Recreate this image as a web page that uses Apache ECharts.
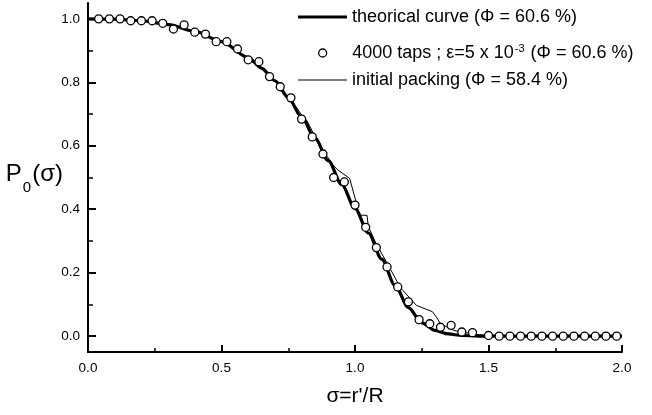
<!DOCTYPE html>
<html>
<head>
<meta charset="utf-8">
<script src="https://cdn.jsdelivr.net/npm/echarts@6/dist/echarts.min.js"></script>
<style>
html,body{margin:0;padding:0;background:#fff;}
#c{width:652px;height:415px;}
</style>
</head>
<body>
<div id="c"></div>
<script>
// ---- data ----
var theoryX = [0, 0.1, 0.2, 0.3, 0.4, 0.5, 0.6, 0.65, 0.7, 0.75, 0.8, 0.85, 0.9, 0.95, 1.0, 1.05, 1.1, 1.15, 1.2, 1.25, 1.3, 1.35, 1.4, 1.5, 1.6, 1.8, 2.0];
var theoryY = [1.0, 0.999, 0.994, 0.982, 0.961, 0.928, 0.878, 0.845, 0.805, 0.752, 0.690, 0.624, 0.553, 0.478, 0.403, 0.325, 0.243, 0.160, 0.090, 0.042, 0.018, 0.007, 0.002, 0, 0, 0, 0];

var tapsX = [0.04, 0.08, 0.12, 0.16, 0.20, 0.24, 0.28, 0.32, 0.36, 0.40, 0.44, 0.48, 0.52, 0.56, 0.60, 0.64, 0.68, 0.72, 0.76, 0.80, 0.84, 0.88, 0.92, 0.96, 1.00, 1.04, 1.08, 1.12, 1.16, 1.20, 1.24, 1.28, 1.32, 1.36, 1.40, 1.44, 1.50, 1.54, 1.58, 1.62, 1.66, 1.70, 1.74, 1.78, 1.82, 1.86, 1.90, 1.94, 1.98];
var tapsY = [1.0, 1.0, 1.0, 0.994, 0.994, 0.994, 0.986, 0.968, 0.981, 0.958, 0.952, 0.928, 0.928, 0.905, 0.871, 0.865, 0.818, 0.786, 0.751, 0.684, 0.628, 0.574, 0.500, 0.486, 0.413, 0.343, 0.279, 0.218, 0.155, 0.108, 0.052, 0.039, 0.028, 0.034, 0.013, 0.011, 0.002, 0, 0, 0, 0, 0, 0, 0, 0, 0, 0, 0, 0];

var initX = [0, 0.1, 0.2, 0.3, 0.4, 0.5, 0.6, 0.7, 0.78, 0.80, 0.82, 0.846, 0.88, 0.918, 0.934, 0.98, 1.004, 1.015, 1.045, 1.05, 1.08, 1.125, 1.17, 1.23, 1.29, 1.305, 1.32, 1.37, 1.44, 1.5, 1.6, 2.0];
var initY = [1.0, 0.999, 0.994, 0.982, 0.961, 0.928, 0.878, 0.805, 0.722, 0.697, 0.679, 0.636, 0.585, 0.539, 0.525, 0.497, 0.423, 0.381, 0.381, 0.345, 0.290, 0.223, 0.153, 0.097, 0.077, 0.060, 0.039, 0.018, 0.007, 0.001, 0, 0];

var yMajor = [0.0, 0.2, 0.4, 0.6, 0.8, 1.0];
var yMinor = [0.1, 0.3, 0.5, 0.7, 0.9];

var nameTheory = 'theorical curve (\u03a6 = 60.6 %)';
var nameTaps = '4000 taps ; \u03b5=5 x 10-3 (\u03a6 = 60.6 %)';
var nameInit = 'initial packing (\u03a6 = 58.4 %)';

function zip(a, b) { return a.map(function (v, i) { return [v, b[i]]; }); }

var FONT = '"Liberation Sans", Arial, Helvetica, sans-serif';
var chart = echarts.init(document.getElementById('c'), null, { renderer: 'canvas' });

function legendAt(name, left, top, icon, iconH, iStyle) {
  return {
    data: [{ name: name, icon: icon }],
    left: left, top: top, orient: 'vertical', padding: 0,
    itemWidth: 49, itemHeight: iconH, itemGap: 0,
    selectedMode: false,
    itemStyle: iStyle,
    textStyle: {
      fontFamily: FONT, fontSize: 18, color: '#000', lineHeight: 20,
      rich: {
        t: { fontFamily: FONT, fontSize: 18, color: '#000', lineHeight: 20 },
        s: { fontFamily: FONT, fontSize: 11, color: '#000', lineHeight: 11, verticalAlign: 'top', padding: [0, 1, 6, 1] }
      }
    },
    formatter: function (n) {
      if (n === nameTaps) return '{t|4000 taps ; \u03b5=5 x 10}{s|-3}{t| (\u03a6 = 60.6 %)}';
      return n;
    }
  };
}

var option = {
  animation: false,
  backgroundColor: '#fff',
  grid: { left: 88, right: 30, top: 3, bottom: 63, containLabel: false, outerBoundsMode: 'none' },
  legend: [
    legendAt(nameTheory, 298, 7, 'rect', 3.2, { color: '#000', borderWidth: 0 }),
    legendAt(nameTaps, 318, 43, 'circle', 8, { color: '#fff', borderColor: '#000', borderWidth: 1.3, opacity: 1 }),
    legendAt(nameInit, 298, 70, 'rect', 1.2, { color: '#000', borderWidth: 0 })
  ],
  xAxis: {
    type: 'value', min: 0, max: 2, interval: 0.5,
    name: '\u03c3=r\'/R', nameLocation: 'middle', nameGap: 34, nameMoveOverlap: false,
    nameTextStyle: { fontFamily: FONT, fontSize: 21, color: '#000' },
    axisLine: { onZero: false, lineStyle: { color: '#000', width: 2 } },
    axisTick: { inside: true, length: 7, lineStyle: { color: '#000', width: 2 } },
    minorTick: { show: true, splitNumber: 2, length: 4, lineStyle: { color: '#000', width: 1.5 } },
    axisLabel: { fontFamily: FONT, fontSize: 13.5, color: '#000', margin: 9, formatter: function (v) { return v.toFixed(1); } },
    splitLine: { show: false }, minorSplitLine: { show: false }
  },
  yAxis: [{
    type: 'value', min: -0.05, max: 1.05, position: 'left',
    name: '{a|P}{b|0}{a|(\u03c3)}', nameLocation: 'middle', nameRotate: 0, nameGap: 25, nameMoveOverlap: false,
    nameTextStyle: {
      fontFamily: FONT, fontSize: 24, color: '#000',
      rich: {
        a: { fontFamily: FONT, fontSize: 24, color: '#000', lineHeight: 30, verticalAlign: 'top' },
        b: { fontFamily: FONT, fontSize: 15, color: '#000', lineHeight: 15, verticalAlign: 'top', padding: [18, 1, 0, 1] }
      }
    },
    axisLine: { onZero: false, lineStyle: { color: '#000', width: 2 } },
    axisTick: { inside: true, length: 8, customValues: yMajor, lineStyle: { color: '#000', width: 2 } },
    axisLabel: { customValues: yMajor, fontFamily: FONT, fontSize: 13.5, color: '#000', margin: 8, formatter: function (v) { return Number(v).toFixed(1); } },
    splitLine: { show: false }
  }, {
    type: 'value', min: -0.05, max: 1.05, position: 'left',
    axisLine: { show: false, onZero: false },
    axisTick: { show: true, inside: true, length: 5, customValues: yMinor, lineStyle: { color: '#000', width: 1.5 } },
    axisLabel: { show: false },
    splitLine: { show: false }
  }],
  series: [
    {
      name: nameTheory, type: 'line', data: zip(theoryX, theoryY),
      symbol: 'none', smooth: 0.3, smoothMonotone: 'x',
      lineStyle: { color: '#000', width: 3.2 }, itemStyle: { color: '#000' }, z: 2
    },
    {
      name: nameInit, type: 'line', data: zip(initX, initY),
      symbol: 'none', lineStyle: { color: '#000', width: 1 }, itemStyle: { color: '#000' }, z: 3
    },
    {
      name: nameTaps, type: 'scatter', data: zip(tapsX, tapsY),
      symbol: 'circle', symbolSize: 8,
      itemStyle: { color: '#fff', borderColor: '#000', borderWidth: 1.3, opacity: 1 }, z: 4
    }
  ]
};
chart.setOption(option);
</script>
</body>
</html>
